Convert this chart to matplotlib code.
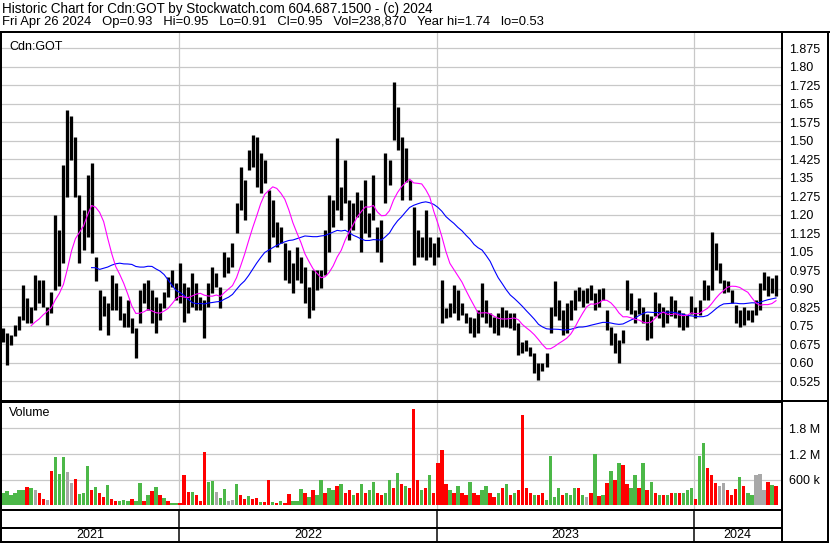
import numpy as np
import pandas as pd
import matplotlib
matplotlib.use("Agg")
import matplotlib.pyplot as plt
import matplotlib.dates as mdates

plt.rcParams['font.family'] = ['Liberation Sans', 'DejaVu Sans']

# ---------------- data (approx. 4-trading-day bars) ----------------
start_date = "2021-04-26"
end_date = "2024-04-26"

hi = [0.741,0.72,0.714,0.754,0.788,0.916,0.862,0.828,0.957,0.936,
      0.936,0.828,0.889,1.20,1.139,1.40,1.623,1.599,1.517,1.281,
      1.22,1.362,1.412,1.031,0.896,0.869,0.842,0.957,0.923,0.869,
      0.801,0.855,
      0.78,0.74,0.895,0.922,0.936,0.895,0.868,0.841,
      0.888,0.949,0.976,0.922,1.003,0.922,0.909,0.963,0.922,0.868,
      0.855,0.922,0.990,0.963,0.909,1.051,1.030,1.084,1.247,1.395,
      1.341,1.463,1.524,1.517,
      1.449,1.422,1.301,1.26,1.172,1.152,
      1.084,1.057,1.003,1.071,1.030,0.99,0.909,0.976,0.976,0.976,
      1.138,1.28,1.26,1.51,1.314,1.422,1.26,1.247,1.294,1.26,
      1.341,1.206,1.361,1.152,1.179,1.449,
      1.422,1.74,1.639,1.517,
      1.47,1.341,1.233,1.138,1.111,1.22,1.111,1.084,1.111,0.936,
      0.821,0.841,0.916,0.895,0.841,0.801,0.787,0.78,0.814,0.922,
      0.855,0.801,0.787,0.801,0.828,0.814,0.801,0.801,0.76,
      0.686,0.693,0.666,0.639,0.599,0.599,0.639,0.828,0.93,0.855,
      0.815,0.842,0.855,0.896,0.909,0.896,0.903,0.916,0.882,0.899,
      0.903,0.815,0.747,0.72,0.693,0.734,0.936,0.882,0.815,0.862,
      0.828,0.80,
      0.788,0.889,0.842,0.828,0.815,0.869,0.855,0.815,0.801,0.794,
      0.869,0.828,0.855,0.936,0.916,1.132,1.085,1.004,0.936,0.93,
      0.896,0.835,0.815,0.828,0.815,0.815,0.855,0.923,0.97,0.95,
      0.943,0.957]

lo = [0.686,0.592,0.673,0.707,0.734,0.774,0.761,0.761,0.815,0.842,
      0.828,0.754,0.801,0.896,0.91,1.004,1.274,1.423,1.274,1.004,
      1.058,1.112,1.045,0.93,0.734,0.788,0.714,0.815,0.815,0.774,
      0.747,0.747,
      0.72,0.618,0.76,0.841,0.814,0.76,0.72,0.774,
      0.821,0.868,0.909,0.855,0.841,0.767,0.801,0.828,0.814,0.814,
      0.699,0.828,0.882,0.909,0.821,0.949,0.963,0.990,1.125,1.22,
      1.179,1.382,1.395,1.314,
      1.287,1.328,1.010,1.111,1.071,1.084,
      0.936,0.922,0.882,0.936,0.922,0.841,0.78,0.814,0.895,0.902,
      0.956,1.051,1.152,1.22,1.179,1.247,1.098,1.138,1.193,1.051,
      1.125,1.111,1.179,1.051,1.010,1.247,
      1.321,1.503,1.463,1.26,
      1.334,1.26,0.997,1.03,1.03,1.017,1.03,0.997,1.03,0.76,
      0.78,0.787,0.801,0.774,0.794,0.76,0.72,0.706,0.72,0.787,
      0.76,0.747,0.72,0.713,0.747,0.747,0.74,0.733,0.632,
      0.639,0.646,0.626,0.558,0.531,0.565,0.585,0.72,0.788,0.774,
      0.713,0.72,0.774,0.815,0.849,0.828,0.842,0.855,0.815,0.828,
      0.855,0.734,0.673,0.639,0.599,0.68,0.815,0.80,0.761,0.80,
      0.761,0.693,
      0.70,0.788,0.781,0.747,0.761,0.788,0.781,0.747,0.734,0.747,
      0.80,0.781,0.794,0.855,0.855,0.896,0.977,0.923,0.882,0.889,
      0.842,0.761,0.747,0.754,0.774,0.767,0.794,0.815,0.896,0.869,
      0.882,0.869]

# volume in millions of shares
vol = [0.30,0.34,0.25,0.29,0.37,0.37,0.43,0.41,0.36,0.29,
       0.15,0.12,0.81,1.14,0.74,1.14,0.78,0.52,0.62,0.27,
       0.30,0.93,0.35,0.44,0.30,0.20,0.48,0.15,
       0.10,0.10,0.12,0.11,0.15,0.10,0.52,0.11,0.25,0.34,
       0.43,0.25,0.17,0.10,0.06,0.05,0.05,0.72,0.32,0.31,
       0.25,0.10,1.25,0.55,0.58,0.31,0.17,0.38,0.10,0.13,
       0.50,0.25,0.16,0.23,0.15,0.17,0.08,0.09,0.60,0.08,
       0.06,0.10,0.05,0.27,0.11,0.10,0.38,
       0.30,0.20,0.35,0.25,0.60,0.30,0.40,0.35,0.45,0.50,
       0.30,0.35,0.25,0.30,0.50,0.30,0.35,0.55,0.30,0.25,
       0.30,0.60,0.40,0.75,0.50,0.45,0.40,2.25,0.60,0.35,
       0.40,0.70,0.30,1.00,1.30,0.50,0.35,0.30,0.45,0.30,
       0.25,0.55,0.30,0.25,0.35,0.45,0.30,0.20,0.30,0.40,
       0.50,0.25,0.30,0.35,2.10,0.40,0.30,0.25,
       0.25,0.30,0.12,1.16,0.20,0.40,0.25,0.30,0.25,0.41,
       0.40,0.25,0.20,0.30,1.19,0.22,0.25,0.52,0.81,0.60,
       0.99,0.94,0.50,0.40,0.72,0.40,0.98,0.35,0.55,0.30,
       0.25,0.25,0.25,0.30,0.30,0.30,0.30,0.35,0.40,0.15,
       1.16,1.45,0.88,0.72,0.52,0.45,0.52,0.35,0.25,0.38,
       0.66,0.45,0.30,0.25,0.72,0.74,0.35,0.55,0.47,0.45]

# g = up day, r = down day, n = unchanged
vol_dir = ("ggggggrgnr" "rnrgggnnrg" "ggrgrrgr" "rgggrggrgr" "grgrggrrrg"
           "rrrggnggnn" "grrgrrgrrg" "rgrrggg"
           "rgrggrggrg" "rrgrgrggrr" "ggrgrgrrrg" "rgrrrrgrgr" "rgrrggrrgr" "grgrrrrg"
           "rrggggrggg" "rgnrgrgrgr" "grrggrgrgr" "grgrgrgggr" "ggrrrnnrrr" "grggnnnrgr")

price_ticks = [1.875, 1.80, 1.725, 1.65, 1.575, 1.50, 1.425, 1.35, 1.275, 1.20,
               1.125, 1.05, 0.975, 0.90, 0.825, 0.75, 0.675, 0.60, 0.525]
price_tick_labels = ["1.875", "1.80", "1.725", "1.65", "1.575", "1.50", "1.425", "1.35",
                     "1.275", "1.20", "1.125", "1.05", "0.975", "0.90", "0.825", "0.75",
                     "0.675", "0.60", "0.525"]
vol_ticks = [0.6, 1.2, 1.8]
vol_tick_labels = ["600 k", "1.2 M", "1.8 M"]
years = [2021, 2022, 2023, 2024]

title1 = "Historic Chart for Cdn:GOT by Stockwatch.com 604.687.1500 - (c) 2024"
title2 = ("Fri Apr 26 2024   Op=0.93   Hi=0.95   Lo=0.91   Cl=0.95   Vol=238,870   "
          "Year hi=1.74   lo=0.53")

# ---------------- derived ----------------
hi = np.array(hi); lo = np.array(lo); vol = np.array(vol)
n = len(hi)
assert len(lo) == n and len(vol) == n and len(vol_dir) == n, (len(lo), len(vol), len(vol_dir))
dates = pd.date_range(start_date, end_date, periods=n)
x = mdates.date2num(dates)
mid = (hi + lo) / 2
ma_short = pd.Series(mid).rolling(10, min_periods=8).mean().values
ma_long = pd.Series(mid).rolling(25, min_periods=23).mean().values

# ---------------- figure ----------------
W, H = 830, 543
fig = plt.figure(figsize=(W / 100, H / 100), dpi=100)

def ax_px(x0, y0, x1, y1, **kw):
    return fig.add_axes([x0 / W, 1 - y1 / H, (x1 - x0) / W, (y1 - y0) / H], **kw)

x_start = mdates.date2num(pd.Timestamp(start_date))
x_end = mdates.date2num(pd.Timestamp(end_date))
day_per_px = (x_end - x_start) / 774.0
xlim = (x_start - 1 * day_per_px, x_end + 5 * day_per_px)
year_starts = [mdates.date2num(pd.Timestamp(f"{y}-01-01")) for y in years[1:]]

grid_c = "#c8c8c8"

# price panel
axp = ax_px(2, 33, 781, 400)
axp.set_xlim(*xlim)
axp.set_ylim(0.4494, 1.937)
for t in price_ticks:
    axp.axhline(t, color=grid_c, lw=0.9, zorder=0)
for ys in year_starts:
    axp.axvline(ys, color=grid_c, lw=0.9, zorder=0)
axp.vlines(x, lo, hi, color="black", lw=2.35, zorder=2)
axp.plot(x, ma_long, color="#0000ff", lw=0.8, zorder=3)
axp.plot(x, ma_short, color="#ff00ff", lw=0.8, zorder=3)
axp.yaxis.tick_right()
axp.set_yticks(price_ticks)
axp.set_yticklabels(price_tick_labels, fontsize=9)
axp.tick_params(axis="y", length=0, pad=6)
axp.set_xticks([])
for s in axp.spines.values():
    s.set_visible(False)
axp.text(7 / 779, 1 - 8 / 367, "Cdn:GOT", transform=axp.transAxes, fontsize=9,
         ha="left", va="top")

# volume panel
axv = ax_px(2, 402, 781, 509.5)
axv.set_xlim(*xlim)
axv.set_ylim(-0.094, 2.414)
for t in vol_ticks:
    axv.axhline(t, color=grid_c, lw=0.9, zorder=0)
for ys in year_starts:
    axv.axvline(ys, color=grid_c, lw=0.9, zorder=0)
cmap = {"g": "#4cb848", "r": "#ff0000", "n": "#a8a8a8"}
axv.bar(x, vol, width=3.4 * day_per_px, bottom=0, color=[cmap[c] for c in vol_dir],
        zorder=2, align="center")
axv.yaxis.tick_right()
axv.set_yticks(vol_ticks)
axv.set_yticklabels(vol_tick_labels, fontsize=9)
axv.tick_params(axis="y", length=0, pad=6)
axv.set_xticks([])
for s in axv.spines.values():
    s.set_visible(False)
axv.text(7 / 779, 1 - 5 / 107.5, "Volume", transform=axv.transAxes, fontsize=9,
         ha="left", va="top")

# date band
axd = ax_px(2, 528, 781, 541.5)
axd.set_xlim(*xlim)
axd.set_ylim(0, 1)
axd.axis("off")
bounds = [xlim[0]] + year_starts + [xlim[1]]
for i, y in enumerate(years):
    axd.text((bounds[i] + bounds[i + 1]) / 2, 0.45, str(y), ha="center", va="center",
             fontsize=9)

# frame lines (layout)
ov = fig.add_axes([0, 0, 1, 1], zorder=10)
ov.set_xlim(0, W)
ov.set_ylim(H, 0)
ov.axis("off")
ov.patch.set_alpha(0)
k = 0.72  # px -> pt
def hl(y, x0, x1, w):
    ov.plot([x0, x1], [y, y], color="black", lw=w * k, solid_capstyle="butt")
def vl(xx, y0, y1, w):
    ov.plot([xx, xx], [y0, y1], color="black", lw=w * k, solid_capstyle="butt")
hl(32, 0, 830, 2)
vl(1, 31, 543, 2)
vl(828, 31, 543, 2)
vl(781.8, 31, 543, 2)
hl(400.5, 0, 829, 2)
hl(402.2, 0, 782, 1)
hl(509.8, 0, 782, 2)
hl(527.6, 0, 782, 2)
hl(541.8, 0, 829, 2)
for ys in year_starts:
    px = 2 + (ys - xlim[0]) / (xlim[1] - xlim[0]) * 779
    vl(px, 510, 541, 1.5)

fig.text(1.5 / W, 1 - 8.5 / H, title1, fontsize=9.75, ha="left", va="center")
fig.text(1.5 / W, 1 - 22.5 / H, title2, fontsize=9.35, ha="left", va="center")

fig.savefig("out.png", dpi=100)
